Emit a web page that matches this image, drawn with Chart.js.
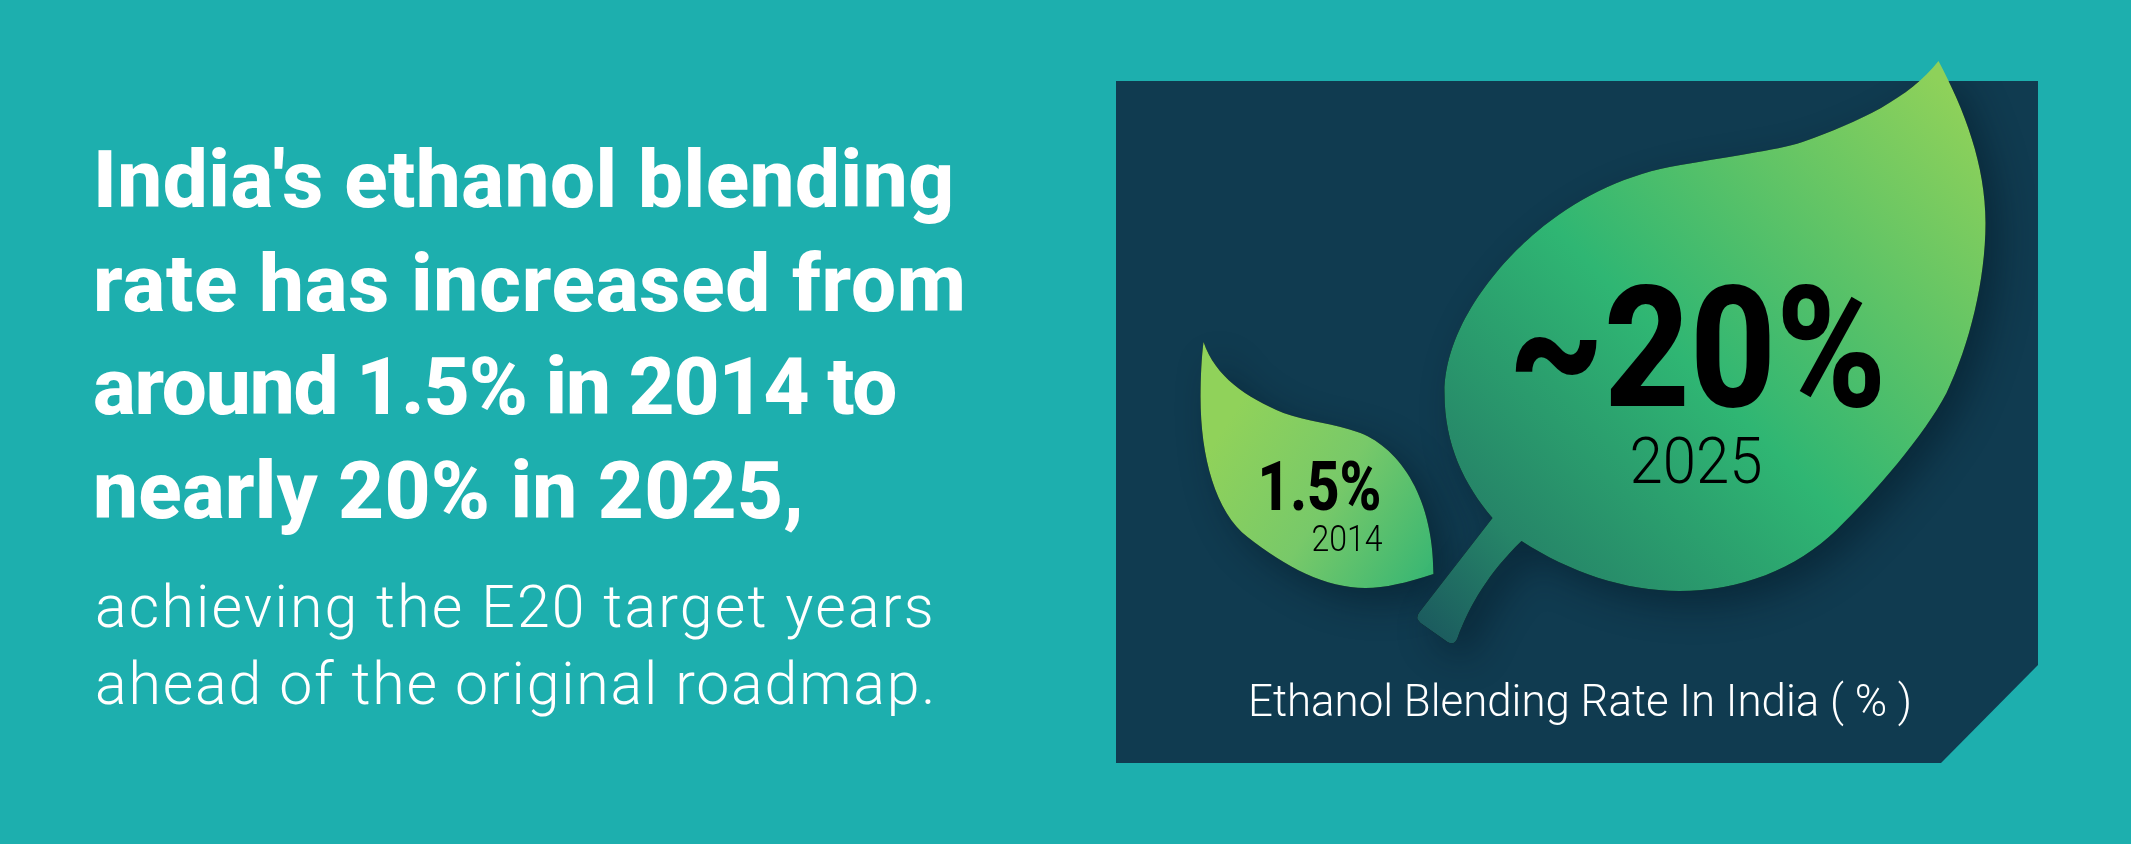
<!DOCTYPE html>
<html>
<head>
<meta charset="utf-8">
<title>Ethanol blending rate in India</title>
<script src="https://cdn.jsdelivr.net/npm/chart.js@4"></script>
<style>
  html, body { margin: 0; padding: 0; background: #1dafae; }
  #wrap { position: relative; width: 2131px; height: 844px; overflow: hidden; font-family: Roboto, sans-serif; color: #fff; }
  canvas { position: absolute; left: 0; top: 0; }
  .lead { position: absolute; left: 93px; top: 129px; font-size: 80px; font-weight: 800; line-height: 103.7px; white-space: nowrap; }
  .sub { position: absolute; left: 95px; top: 568px; font-size: 59px; font-weight: 300; line-height: 77px; white-space: nowrap; }
  .l1 { letter-spacing: 0.5px; }
  .l2 { letter-spacing: 0.83px; }
  .l3 { letter-spacing: -1.15px; }
  .l4 { letter-spacing: 0.25px; }
  .s1 { letter-spacing: 2.2px; }
  .s2 { letter-spacing: 1.8px; }
</style>
</head>
<body>
<div id="wrap">
  <canvas id="leaves" width="2131" height="844"></canvas>
  <div class="lead"><span class="l1">India's ethanol blending</span><br><span class="l2">rate has increased from</span><br><span class="l3">around 1.5% in 2014 to</span><br><span class="l4">nearly 20% in 2025,</span></div>
  <div class="sub"><span class="s1">achieving the E20 target years</span><br><span class="s2">ahead of the original roadmap.</span></div>
</div>
<script>
var years = ['2014', '2025'];
var rates = [1.5, 20];
var rateLabels = ['1.5%', '~20%'];
var chartCaption = 'Ethanol Blending Rate In India ( % )';

// outline of the little leaf, drawn in a 234 x 248 box
function smallLeaf(ctx) {
  ctx.beginPath();
  ctx.moveTo(3, 0);
  ctx.bezierCurveTo(15, 35, 45, 55, 83, 71);
  ctx.bezierCurveTo(105, 79, 135, 82, 157, 90);
  ctx.bezierCurveTo(195, 103, 233, 150, 233, 232);
  ctx.bezierCurveTo(205, 241, 185, 246, 165, 246);
  ctx.bezierCurveTo(125, 246, 85, 225, 47, 195);
  ctx.bezierCurveTo(15, 170, 0, 115, 0, 55);
  ctx.bezierCurveTo(0, 35, 1, 15, 3, 0);
  ctx.closePath();
}

// outline of the big leaf with its stem, drawn in a 540 x 530 box
function bigLeaf(ctx) {
  ctx.beginPath();
  ctx.moveTo(494, 1);
  ctx.bezierCurveTo(465, 38, 415, 62, 358, 82);
  ctx.bezierCurveTo(330, 91, 285, 96, 225, 107);
  ctx.bezierCurveTo(175, 117, 130, 140, 92, 172);
  ctx.bezierCurveTo(50, 207, 0, 270, 0, 333);
  ctx.bezierCurveTo(0, 385, 20, 425, 48, 458);
  ctx.lineTo(-25, 552);
  ctx.quadraticCurveTo(-30, 558, -24, 563);
  ctx.lineTo(3, 582);
  ctx.quadraticCurveTo(10, 586, 13, 578);
  ctx.bezierCurveTo(25, 545, 45, 512, 77, 481);
  ctx.bezierCurveTo(125, 512, 180, 531, 235, 531);
  ctx.bezierCurveTo(295, 531, 352, 509, 392, 470);
  ctx.bezierCurveTo(430, 433, 480, 375, 502, 333);
  ctx.bezierCurveTo(525, 285, 541, 220, 541, 163);
  ctx.bezierCurveTo(541, 105, 520, 50, 494, 1);
  ctx.closePath();
}

function smallFill(ctx) {
  var g = ctx.createLinearGradient(20, 90, 233, 230);
  g.addColorStop(0, '#90d25a');
  g.addColorStop(0.5, '#78c969');
  g.addColorStop(1, '#38b673');
  return g;
}

function bigFill(ctx) {
  var g = ctx.createLinearGradient(494, 20, -44, 548);
  g.addColorStop(0, '#8ed15a');
  g.addColorStop(0.5, '#2fb673');
  g.addColorStop(0.83, '#268568');
  g.addColorStop(1, '#1b5a5e');
  return g;
}

var leafShapes = [
  { path: smallLeaf, fill: smallFill, w: 234, h: 248 },
  { path: bigLeaf, fill: bigFill, w: 540, h: 530 }
];

function panelPath(ctx) {
  ctx.beginPath();
  ctx.moveTo(1116, 81);
  ctx.lineTo(2038, 81);
  ctx.lineTo(2038, 665);
  ctx.lineTo(1941, 763);
  ctx.lineTo(1116, 763);
  ctx.closePath();
}

// background panel with the cut corner
var panelPlugin = {
  id: 'panel',
  beforeDraw: function (chart) {
    var ctx = chart.ctx;
    ctx.save();
    ctx.fillStyle = '#103b50';
    panelPath(ctx);
    ctx.fill();
    ctx.restore();
  }
};

function label(ctx, text, x, y, width, font, color) {
  ctx.font = font;
  ctx.fillStyle = color;
  ctx.textAlign = 'left';
  ctx.textBaseline = 'alphabetic';
  ctx.fillText(text, x, y, width);
}

// each bar is painted as a leaf that fills the height of the bar
var leafPlugin = {
  id: 'leafBars',
  afterDatasetsDraw: function (chart) {
    var ctx = chart.ctx;
    var bars = chart.getDatasetMeta(0).data;
    bars.forEach(function (bar, i) {
      var shape = leafShapes[i];
      var k = (bar.base - bar.y) / shape.h;
      var left = bar.x - shape.w * k / 2;

      // the shadow stays inside the panel, the leaf does not
      ctx.save();
      panelPath(ctx);
      ctx.clip();
      ctx.translate(left, bar.y);
      ctx.scale(k, k);
      shape.path(ctx);
      ctx.shadowColor = 'rgba(3, 20, 30, 0.45)';
      ctx.shadowBlur = 36;
      ctx.shadowOffsetX = 14;
      ctx.shadowOffsetY = 14;
      ctx.fillStyle = '#000';
      ctx.fill();
      ctx.restore();

      ctx.save();
      ctx.translate(left, bar.y);
      ctx.scale(k, k);
      shape.path(ctx);
      ctx.fillStyle = shape.fill(ctx);
      ctx.fill();
      ctx.restore();
    });

    var small = bars[0], big = bars[1];
    label(ctx, rateLabels[0], small.x - 60, 510, 124, '800 69px Roboto', '#000');
    label(ctx, years[0], small.x - 6, 551, 71, '300 37px Roboto', '#000');
    label(ctx, rateLabels[1], big.x - 206, 406, 378, '800 168px Roboto', '#000');
    label(ctx, years[1], big.x - 85, 483, 133, '300 64px Roboto', '#000');
    label(ctx, chartCaption, 1248, 716, 664, '300 45px Roboto', '#fff');
  }
};

var ctx = document.getElementById('leaves').getContext('2d');
new Chart(ctx, {
  type: 'bar',
  data: {
    labels: years,
    datasets: [{
      label: 'Ethanol blending rate (%)',
      data: rates,
      backgroundColor: 'transparent'
    }]
  },
  options: {
    responsive: false,
    animation: false,
    devicePixelRatio: 1,
    layout: { padding: { left: 1119, right: 218, top: 60, bottom: 254 } },
    plugins: { legend: { display: false }, tooltip: { enabled: false } },
    scales: {
      x: { display: false },
      y: { type: 'logarithmic', display: false, min: 0.154, max: 20 }
    }
  },
  plugins: [panelPlugin, leafPlugin]
});
</script>
</body>
</html>
